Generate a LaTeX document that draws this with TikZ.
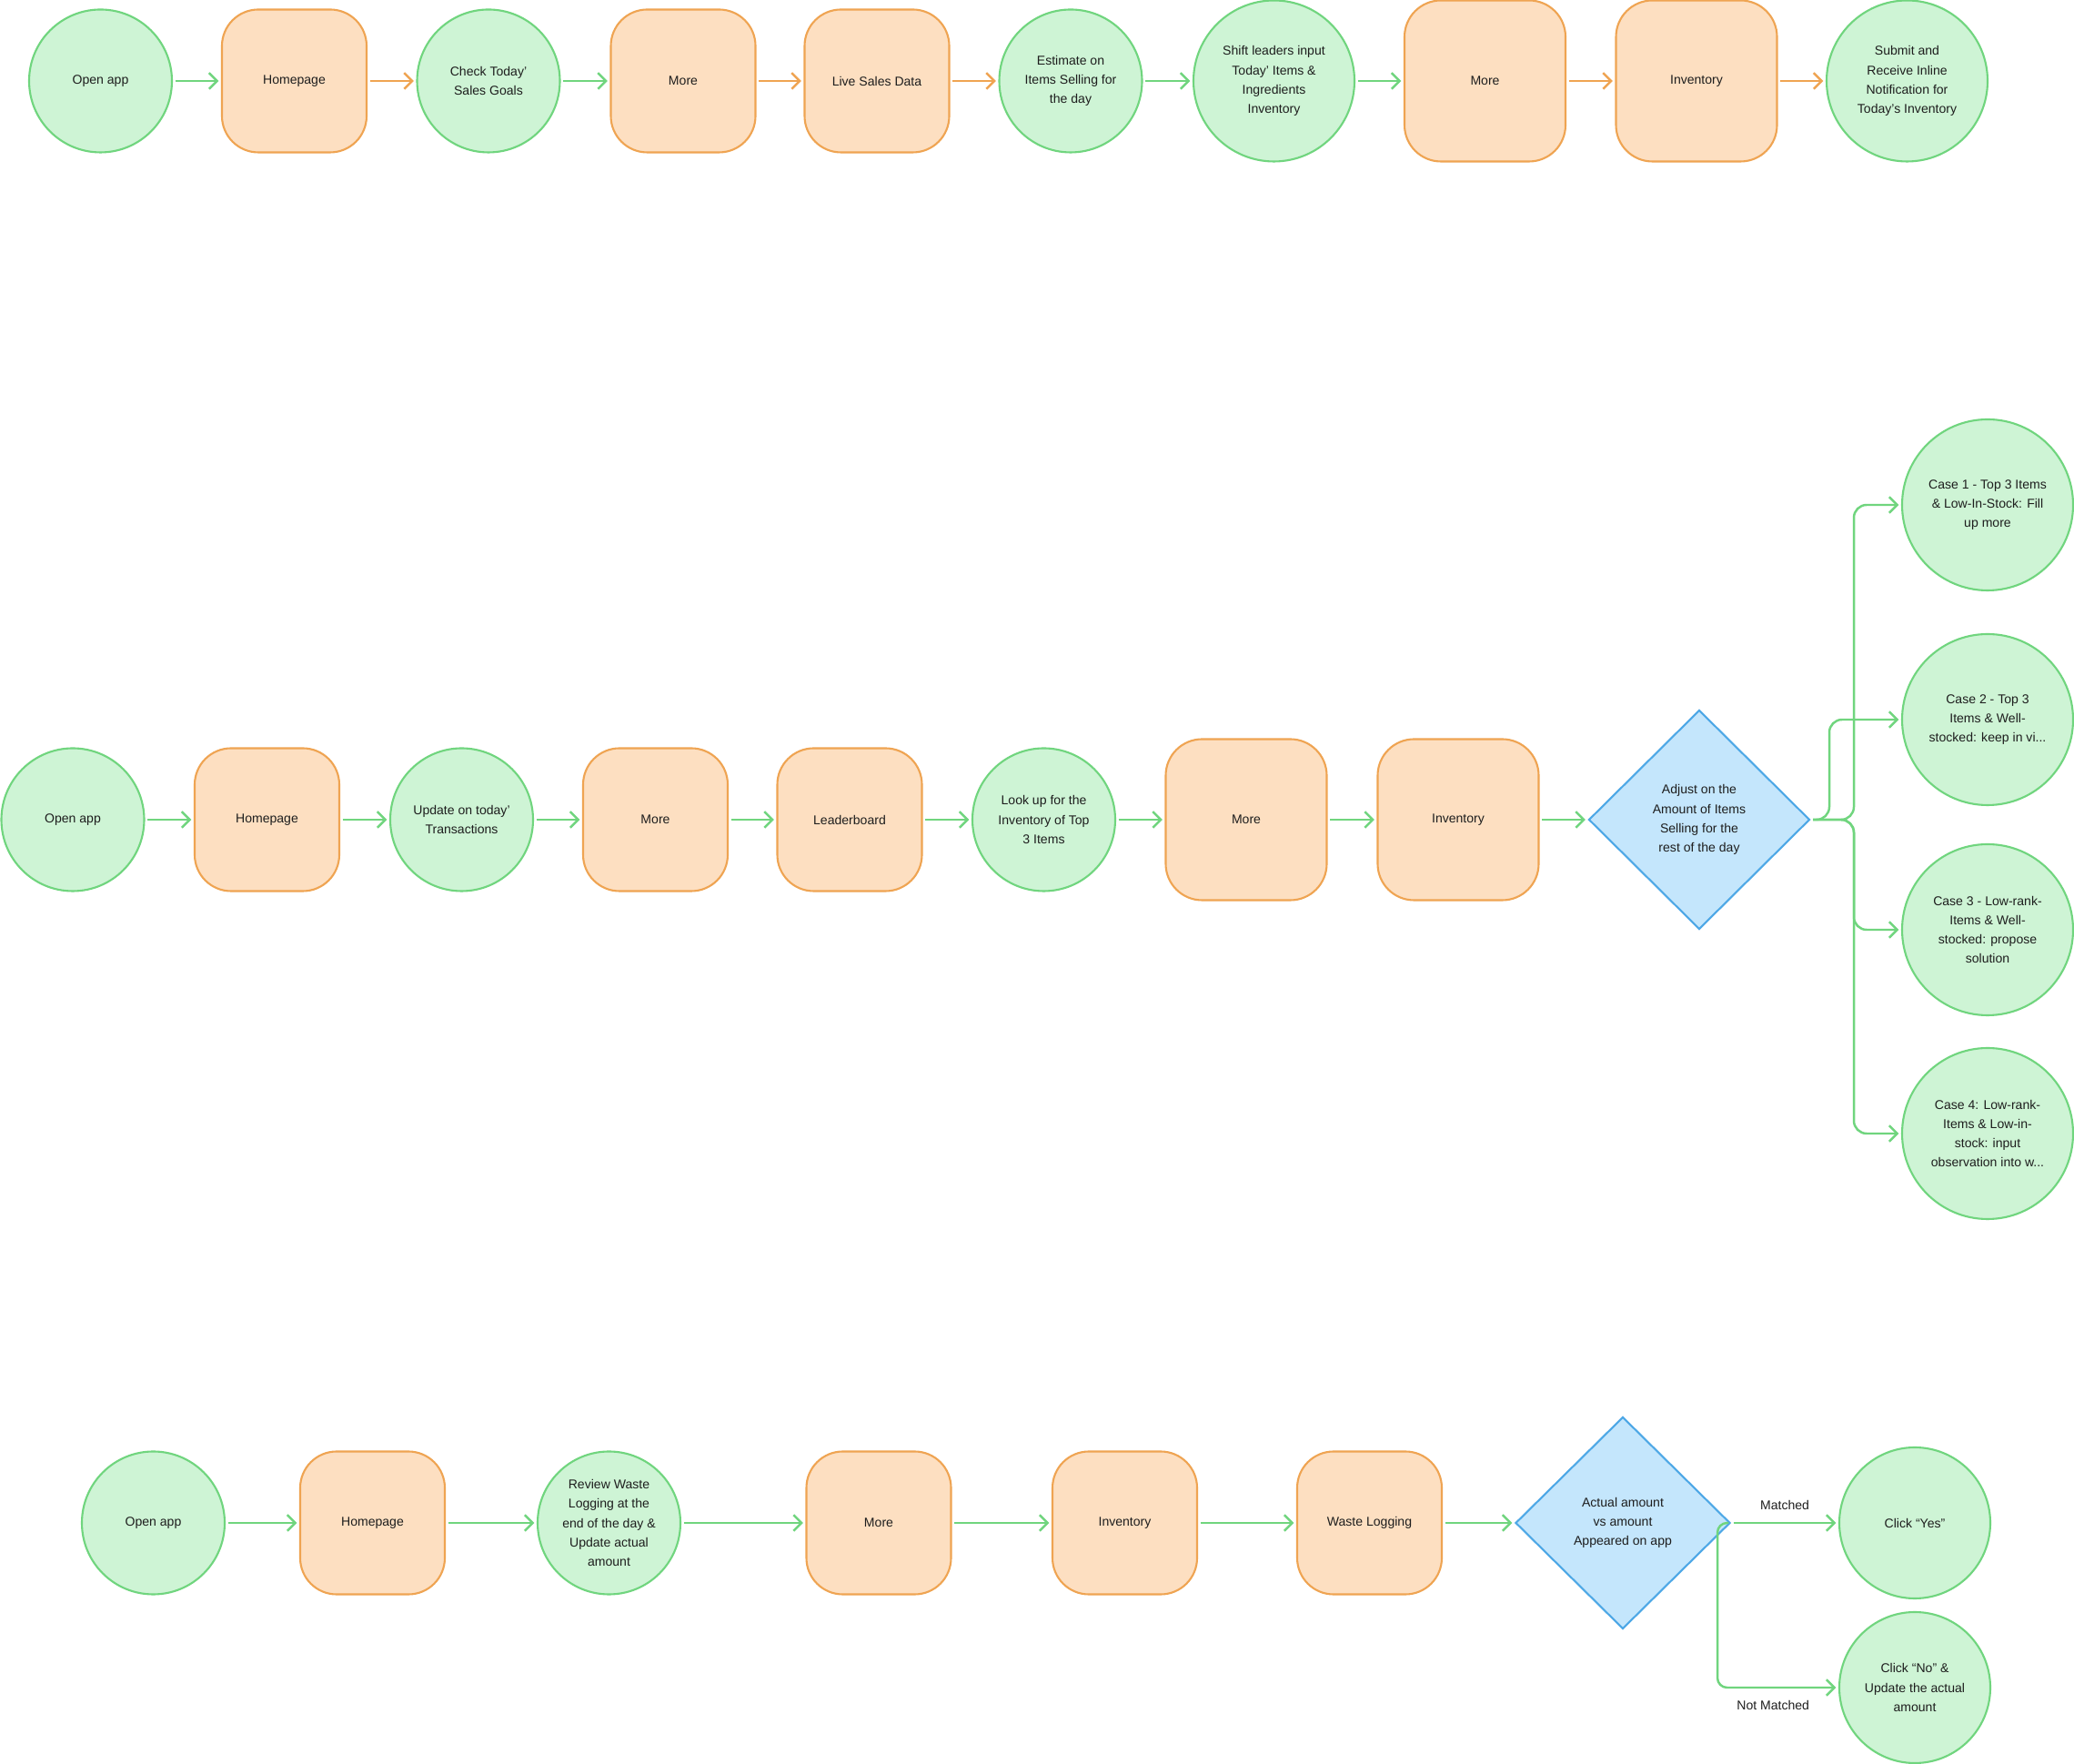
\documentclass[tikz,border=0pt]{standalone}
\usepackage{fontspec}
\setmainfont{Liberation Sans}
\usetikzlibrary{arrows.meta, shapes.geometric, calc}
\definecolor{stepfill}{RGB}{206,244,213}
\definecolor{stepline}{RGB}{112,213,126}
\definecolor{pagefill}{RGB}{253,223,193}
\definecolor{pageline}{RGB}{239,164,82}
\definecolor{askfill}{RGB}{196,230,252}
\definecolor{askline}{RGB}{78,168,230}
\definecolor{ink}{RGB}{30,30,30}
\tikzset{
  base/.style={font=\fontsize{8}{12}\selectfont, text=ink, align=center, line width=1.2pt, inner sep=0pt},
  action/.style={base, circle, draw=stepline, fill=stepfill, minimum size=3.14cm},
  bigaction/.style={action, minimum size=3.54cm},
  screen/.style={base, rectangle, rounded corners=0.8cm, draw=pageline, fill=pagefill, minimum width=3.18cm, minimum height=3.14cm},
  bigscreen/.style={screen, minimum width=3.54cm, minimum height=3.54cm},
  choice/.style={base, diamond, draw=askline, fill=askfill},
  flow/.style={line width=1.4pt, -{Straight Barb[length=5pt, width=10pt]}, shorten >=1.5pt, shorten <=1.5pt},
  gflow/.style={flow, stepline},
  oflow/.style={flow, pageline},
  lbl/.style={font=\fontsize{8}{12}\selectfont, text=ink},
}

\begin{document}
\begin{tikzpicture}
        \path[use as bounding box, fill=white] (0,0) rectangle (45.6,38.76);

        \node[action]    (o1)  at (2.21,  36.98) {Open app};
        \node[screen]    (h1)  at (6.47,  36.98) {Homepage};
        \node[action]    (c1)  at (10.74, 36.98) {Check Today’\\Sales Goals};
        \node[screen]    (m1)  at (15.02, 36.98) {More};
        \node[screen]    (l1)  at (19.28, 36.98) {Live Sales Data};
        \node[action]    (e1)  at (23.54, 36.98) {Estimate on\\Items Selling for\\the day};
        \node[bigaction] (s1)  at (28.01, 36.98) {Shift leaders input\\Today’ Items \&\\Ingredients\\Inventory};
        \node[bigscreen] (mm1) at (32.65, 36.98) {More};
        \node[bigscreen] (i1)  at (37.30, 36.98) {Inventory};
        \node[bigaction] (n1)  at (41.93, 36.98) {Submit and\\Receive Inline\\Notification for\\Today’s Inventory};
        \foreach \a/\b in {o1/h1, c1/m1, e1/s1, s1/mm1}
            \draw[gflow] (\a) -- (\b);
        \foreach \a/\b in {h1/c1, m1/l1, l1/e1, mm1/i1, i1/n1}
            \draw[oflow] (\a) -- (\b);

        \node[action]    (o2)  at (1.60,  20.74) {Open app};
        \node[screen]    (h2)  at (5.87,  20.74) {Homepage};
        \node[action]    (u2)  at (10.15, 20.74) {Update on today’\\Transactions};
        \node[screen]    (m2)  at (14.41, 20.74) {More};
        \node[screen]    (b2)  at (18.68, 20.74) {Leaderboard};
        \node[action]    (t2)  at (22.95, 20.74) {Look up for the\\Inventory of Top\\3 Items};
        \node[bigscreen] (mm2) at (27.40, 20.74) {More};
        \node[bigscreen] (i2)  at (32.06, 20.74) {Inventory};
        \node[choice, minimum width=4.86cm, minimum height=4.82cm] (a2) at (37.36, 20.74) {Adjust on the\\Amount of Items\\Selling for the\\rest of the day};
        \node[action, minimum size=3.76cm] (k1) at (43.70, 27.66) {Case 1 - Top 3 Items\\\& Low-In-Stock: Fill\\up more};
        \node[action, minimum size=3.76cm] (k2) at (43.70, 22.94) {Case 2 - Top 3\\Items \& Well-\\stocked: keep in vi...};
        \node[action, minimum size=3.76cm] (k3) at (43.70, 18.32) {Case 3 - Low-rank-\\Items \& Well-\\stocked: propose\\solution};
        \node[action, minimum size=3.76cm] (k4) at (43.70, 13.84) {Case 4: Low-rank-\\Items \& Low-in-\\stock: input\\observation into w...};
        \foreach \a/\b in {o2/h2, h2/u2, u2/m2, m2/b2, b2/t2, t2/mm2, mm2/i2, i2/a2}
            \draw[gflow] (\a) -- (\b);
        \coordinate (split)  at (40.76, 20.74);
        \coordinate (split2) at (40.22, 20.74);
        \foreach \k in {k1, k3, k4}
            \draw[gflow, rounded corners=8pt] (a2.east) -- (split) |- (\k);
        \draw[gflow, rounded corners=8pt] (a2.east) -- (split2) |- (k2);

        \node[action] (o3) at (3.37,  5.28) {Open app};
        \node[screen] (h3) at (8.19,  5.28) {Homepage};
        \node[action] (r3) at (13.39, 5.28) {Review Waste\\Logging at the\\end of the day \&\\Update actual\\amount};
        \node[screen] (m3) at (19.32, 5.28) {More};
        \node[screen] (i3) at (24.73, 5.28) {Inventory};
        \node[screen] (w3) at (30.11, 5.28) {Waste Logging};
        \node[choice, minimum width=4.72cm, minimum height=4.66cm] (d3) at (35.68, 5.28) {Actual amount\\vs amount\\Appeared on app};
        \node[action, minimum size=3.32cm] (y3) at (42.10, 5.28) {Click “Yes”};
        \node[action, minimum size=3.32cm] (n3) at (42.10, 1.66) {Click “No” \&\\Update the actual\\amount};
        \foreach \a/\b in {o3/h3, h3/r3, r3/m3, m3/i3, i3/w3, w3/d3}
            \draw[gflow] (\a) -- (\b);
        \draw[gflow] (d3) -- node[lbl, above=4pt] {Matched} (y3);
        \draw[gflow, rounded corners=6pt] (d3.east) -- ++(-0.3,0) |- node[lbl, below=4pt, pos=0.73] {Not Matched} (n3);
    \end{tikzpicture}
\end{document}
